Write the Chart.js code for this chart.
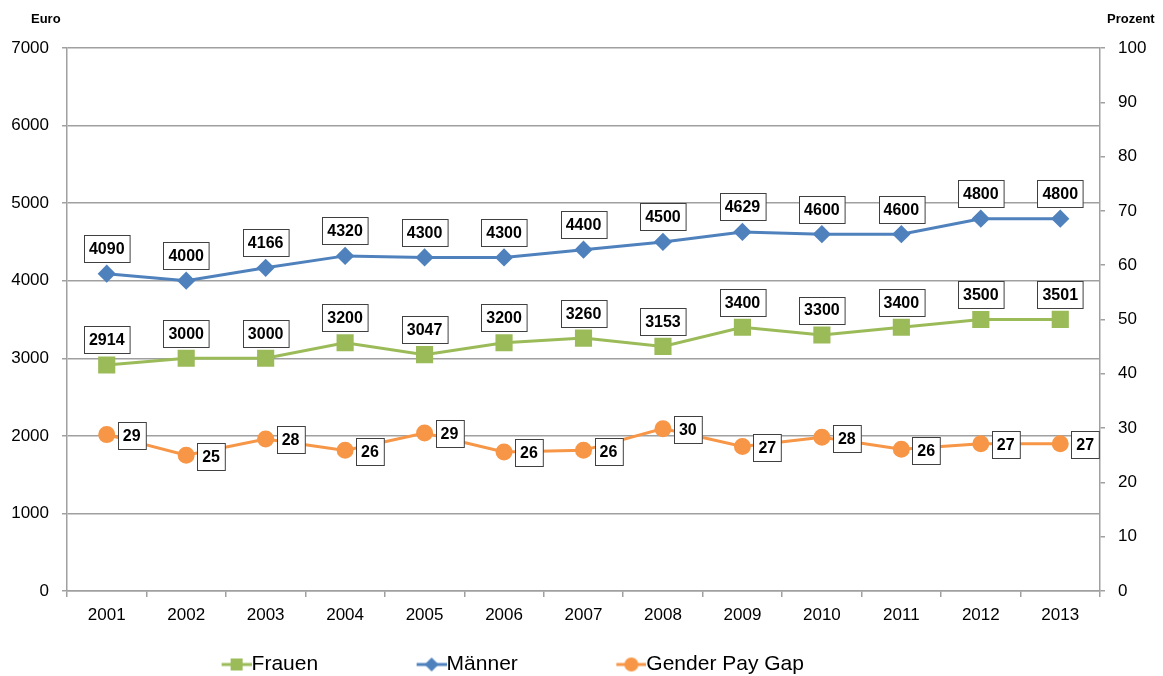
<!DOCTYPE html>
<html>
<head>
<meta charset="utf-8">
<script src="https://cdn.jsdelivr.net/npm/chart.js@4.4.0/dist/chart.umd.min.js"></script>
<style>
  html, body { margin: 0; padding: 0; background: #fff; }
  #wrap { width: 1163px; height: 676px; position: relative; }
</style>
</head>
<body>
<div id="wrap"><canvas id="chart"></canvas></div>
<script>
var years = ['2001','2002','2003','2004','2005','2006','2007','2008','2009','2010','2011','2012','2013'];
var frauen = [2914, 3000, 3000, 3200, 3047, 3200, 3260, 3153, 3400, 3300, 3400, 3500, 3501];
var maenner = [4090, 4000, 4166, 4320, 4300, 4300, 4400, 4500, 4629, 4600, 4600, 4800, 4800];
var payGap = [28.8, 25.0, 28.0, 25.9, 29.1, 25.6, 25.9, 29.9, 26.6, 28.3, 26.1, 27.1, 27.1];

var FONT = '"Liberation Sans", Arial, sans-serif';
var GREEN = '#9BBB59', BLUE = '#4F81BD', ORANGE = '#F79646';
var GRID = '#a0a0a0';

// legend symbol: line with marker, drawn at the right end of a wider transparent canvas
function legendIcon(color, shape){
	var c = document.createElement('canvas');
	c.width = 115; c.height = 18;
	var g = c.getContext('2d');
	var x0 = 85, mid = 100;
	g.strokeStyle = color; g.lineWidth = 3;
	g.beginPath(); g.moveTo(x0, 9); g.lineTo(115, 9); g.stroke();
	g.fillStyle = color;
	g.beginPath();
	if(shape === 'rect'){ g.rect(mid-6, 3, 12, 12); }
	else if(shape === 'rectRot'){ g.moveTo(mid, 2); g.lineTo(mid+7, 9); g.lineTo(mid, 16); g.lineTo(mid-7, 9); g.closePath(); }
	else { g.arc(mid, 9, 7, 0, Math.PI*2); }
	g.fill();
	return c;
}

var boxLabels = {
	id: 'boxLabels',
	afterLayout: function(chart){
		// legend sits left of centre in the original
		if(chart.legend){ chart.legend.left -= 106; chart.legend.right -= 106; }
	},
	afterDatasetsDraw: function(chart){
		var ctx = chart.ctx;
		ctx.save();
		ctx.font = 'bold 16px ' + FONT;
		ctx.textAlign = 'center';
		ctx.textBaseline = 'middle';
		chart.data.datasets.forEach(function(ds, di){
			var meta = chart.getDatasetMeta(di);
			meta.data.forEach(function(pt, i){
				var txt = String(Math.round(ds.data[i]));
				var w = ctx.measureText(txt).width + 10;
				var h = 27;
				var cx = pt.x, cy = pt.y;
				if(ds.labelPos === 'right'){ cx += 11 + w/2; cy += 1; }
				else { cy -= 25; }
				var x = Math.round(cx - w/2) + 0.5, y = Math.round(cy - h/2) + 0.5;
				ctx.fillStyle = '#fff';
				ctx.fillRect(x, y, w, h);
				ctx.strokeStyle = '#404040';
				ctx.lineWidth = 1;
				ctx.strokeRect(x, y, w, h);
				ctx.fillStyle = '#000';
				ctx.fillText(txt, cx, cy + 1);
			});
		});
		// axis titles
		ctx.font = 'bold 13px ' + FONT;
		ctx.textAlign = 'left';
		ctx.fillText('Euro', 31, 19);
		ctx.fillText('Prozent', 1107, 19);
		ctx.restore();
	}
};

var plain = function(v){ return String(v); };

new Chart(document.getElementById('chart'), {
	type: 'line',
	data: {
		labels: years,
		datasets: [
			{
				label: 'Frauen', data: frauen, yAxisID: 'y',
				borderColor: GREEN, backgroundColor: GREEN, borderWidth: 3,
				pointStyle: 'rect', pointRadius: 10, pointHoverRadius: 10,
				legendIcon: legendIcon(GREEN, 'rect'), tension: 0
			},
			{
				label: 'Männer', data: maenner, yAxisID: 'y',
				borderColor: BLUE, backgroundColor: BLUE, borderWidth: 3,
				pointStyle: 'rectRot', pointRadius: 7, pointHoverRadius: 7,
				legendIcon: legendIcon(BLUE, 'rectRot'), tension: 0
			},
			{
				label: 'Gender Pay Gap', data: payGap, yAxisID: 'y1',
				borderColor: ORANGE, backgroundColor: ORANGE, borderWidth: 3,
				pointStyle: 'circle', pointRadius: 7, pointHoverRadius: 7,
				legendIcon: legendIcon(ORANGE, 'circle'), labelPos: 'right', tension: 0
			}
		]
	},
	options: {
		responsive: true,
		maintainAspectRatio: false,
		animation: false,
		layout: { padding: { top: 48, left: 0, right: 0, bottom: -9 } },
		plugins: {
			tooltip: { enabled: false },
			legend: {
				position: 'bottom',
				labels: {
					font: { family: FONT, size: 21 },
					color: '#000',
					usePointStyle: true,
					pointStyleWidth: 94,
					padding: 24,
					generateLabels: function(chart){
						return chart.data.datasets.map(function(ds, i){
							return { text: ds.label, pointStyle: ds.legendIcon, datasetIndex: i,
								fillStyle: ds.borderColor, strokeStyle: ds.borderColor, lineWidth: 0, hidden: false };
						});
					}
				}
			}
		},
		scales: {
			x: {
				offset: true,
				grid: { display: true, drawOnChartArea: false, offset: true, tickLength: 6, color: GRID, lineWidth: 1.5 },
				border: { display: true, color: GRID, width: 1.5 },
				ticks: { font: { family: FONT, size: 17 }, color: '#000', padding: 8, maxRotation: 0, autoSkip: false },
				afterFit: function(s){ s.height = 39; }
			},
			y: {
				position: 'left', min: 0, max: 7000,
				ticks: { stepSize: 1000, font: { family: FONT, size: 17 }, color: '#000', padding: 13, callback: plain },
				grid: { color: GRID, lineWidth: 1.5, tickLength: 5 },
				border: { display: true, color: GRID, width: 1.5 },
				afterFit: function(s){ s.width = 67; }
			},
			y1: {
				position: 'right', min: 0, max: 100,
				ticks: { stepSize: 10, font: { family: FONT, size: 17 }, color: '#000', padding: 13, callback: plain },
				grid: { drawOnChartArea: false, color: GRID, lineWidth: 1.5, tickLength: 5 },
				border: { display: true, color: GRID, width: 1.5 },
				afterFit: function(s){ s.width = 63; }
			}
		}
	},
	plugins: [boxLabels]
});
</script>
</body>
</html>
